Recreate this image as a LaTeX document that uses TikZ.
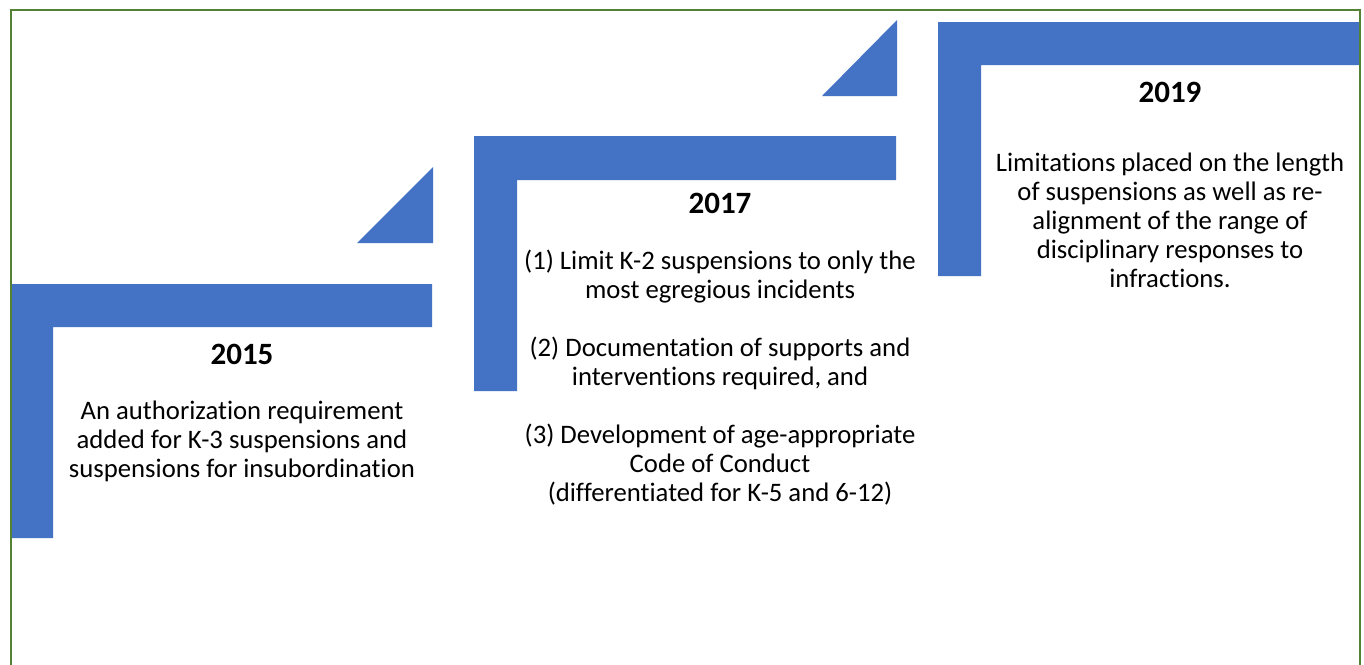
\documentclass[tikz,border=0pt]{standalone}
\usepackage{fontspec}
\setmainfont[Ligatures = NoCommon, RawFeature = {-calt;-clig;-dlig}]{Carlito}
\usepackage{tikz}
\usetikzlibrary{positioning}
\usepackage{xcolor}
\definecolor{stepblue}{HTML}{4472C4}
\definecolor{framegreen}{HTML}{548235}

\tikzset{
	year/.style = {inner sep = 0pt, font = \fontsize{31}{36}\selectfont\bfseries},
	bodytext/.style = {inner sep = 0pt, align = center, font = \fontsize{26.7}{29}\selectfont},
	stepshape/.style = {fill = stepblue}
}

\begin{document}
\begin{tikzpicture}[x = 1pt, y = -1pt]
		\useasboundingbox (0,0) rectangle (1364,664);
		\clip (0,0) rectangle (1364,664);
		\fill[white] (0,0) rectangle (1364,664);
		
		% steps
		\fill[stepshape] (12,284) -- (432,284) -- (432,327) -- (53,327) -- (53,538) -- (12,538) -- cycle;
		\fill[stepshape] (357,243) -- (433,243) -- (433,167) -- cycle;
		\fill[stepshape] (474,136) -- (896,136) -- (896,180) -- (517,180) -- (517,391) -- (474,391) -- cycle;
		\fill[stepshape] (822,96) -- (897,96) -- (897,20) -- cycle;
		\fill[stepshape] (938,22) -- (1360,22) -- (1360,65) -- (981,65) -- (981,276) -- (938,276) -- cycle;
		
		% frame
		\draw[framegreen, line width = 2pt] (11,700) -- (11,10) -- (1360,10) -- (1360,700);
		
		\draw (242,354) node[year] (y2015) {2015}
		(242,441) node[bodytext] (t2015) {An authorization requirement\\ added for K-3 suspensions and\\ suspensions for insubordination}
		(720,203) node[year] (y2017) {2017}
		(720,378) node[bodytext] (t2017) {(1) Limit K-2 suspensions to only the\\ most egregious incidents\\[29pt] (2) Documentation of supports and\\ interventions required, and\\[29pt] (3) Development of age-appropriate\\ Code of Conduct\\ (differentiated for K-5 and 6-12)}
		(1170,92) node[year] (y2019) {2019}
		(1170,220) node[bodytext] (t2019) {Limitations placed on the length\\ of suspensions as well as re-\\ alignment of the range of\\ disciplinary responses to\\ infractions.};
	\end{tikzpicture}
\end{document}
